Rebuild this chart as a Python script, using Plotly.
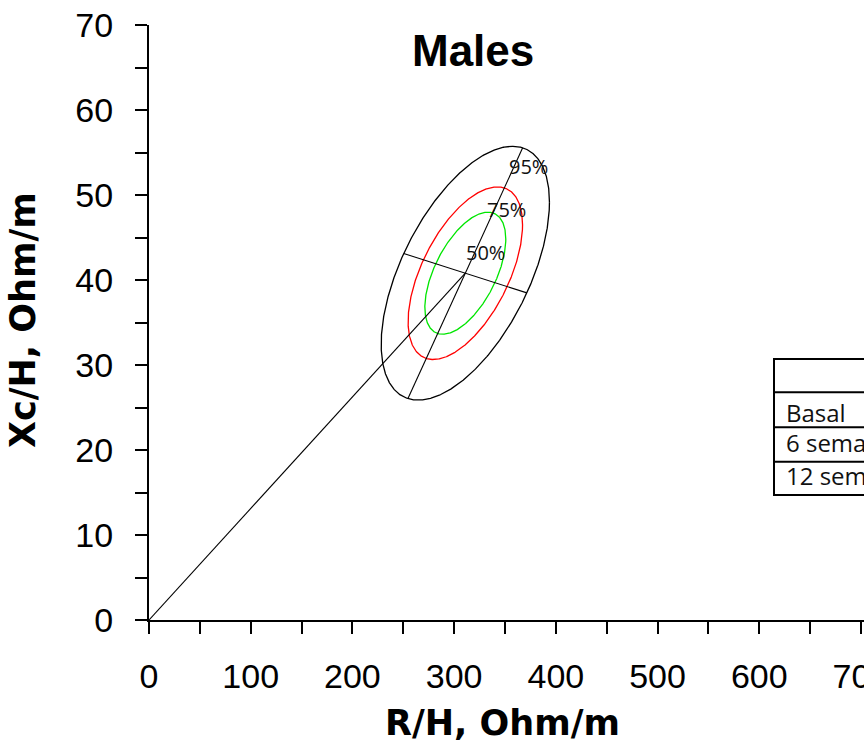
import numpy as np
import plotly.graph_objects as go

# ---- data ----
R_MEAN = 311.0        # R/H mean, Ohm/m
XC_MEAN = 40.8        # Xc/H mean, Ohm/m
R_SD = 33.8
XC_SD = 6.1
R_XC_CORR = 0.56
R_AXIS_SCALE = 0.1    # R scaling used for the ellipse principal axes

LEVELS = [0.50, 0.75, 0.95]
LEVEL_LABELS = ["50%", "75%", "95%"]
LEVEL_COLORS = ["#00e600", "#ff0000", "#000000"]
LABEL_R = [330.4, 351.7, 372.7]
LABEL_XC = [43.2, 48.3, 53.4]

TABLE_ROWS = ["", "Basal", "6 semanas", "12 semanas"]

X_TICKS = [0, 100, 200, 300, 400, 500, 600, 700]
X_MINOR = [50, 150, 250, 350, 450, 550, 650]
Y_TICKS = [0, 10, 20, 30, 40, 50, 60, 70]
Y_MINOR = [5, 15, 25, 35, 45, 55, 65]

TITLE = "Males"
X_TITLE = "R/H, Ohm/m"
Y_TITLE = "Xc/H, Ohm/m"

# ---- layout geometry (pixels) ----
W, H = 864, 744
ML, MR, MT, MB = 149, 0, 25, 124
PW, PH = W - ML - MR, H - MT - MB


def px_to_paper(px, py):
    return (px - ML) / PW, (H - MB - py) / PH


fig = go.Figure()

# tolerance ellipses
t = np.linspace(0, 2 * np.pi, 721)
for p, col in zip(LEVELS, LEVEL_COLORS):
    k = np.sqrt(-2 * np.log(1 - p))
    ex = R_MEAN + k * R_SD * np.cos(t)
    ey = XC_MEAN + k * XC_SD * (R_XC_CORR * np.cos(t) + np.sqrt(1 - R_XC_CORR ** 2) * np.sin(t))
    fig.add_trace(go.Scatter(x=ex, y=ey, mode="lines", line=dict(color=col, width=1.3),
                             hoverinfo="skip", showlegend=False))

# principal axes of the 95% ellipse
k95 = np.sqrt(-2 * np.log(1 - max(LEVELS)))
s = R_AXIS_SCALE
cov = np.array([[(s * R_SD) ** 2, R_XC_CORR * s * R_SD * XC_SD],
                [R_XC_CORR * s * R_SD * XC_SD, XC_SD ** 2]])
vals, vecs = np.linalg.eigh(cov)
for i in range(2):
    half = k95 * np.sqrt(vals[i]) * vecs[:, i]
    dx, dy = half[0] / s, half[1]
    fig.add_trace(go.Scatter(x=[R_MEAN - dx, R_MEAN + dx], y=[XC_MEAN - dy, XC_MEAN + dy],
                             mode="lines", line=dict(color="black", width=1.1),
                             hoverinfo="skip", showlegend=False))

# vector from origin to mean
fig.add_trace(go.Scatter(x=[0, R_MEAN], y=[0, XC_MEAN], mode="lines",
                         line=dict(color="black", width=1.1), hoverinfo="skip", showlegend=False))

annotations = []
for lab, lx, ly in zip(LEVEL_LABELS, LABEL_R, LABEL_XC):
    annotations.append(dict(x=lx, y=ly, xref="x", yref="y", text=lab, showarrow=False,
                            font=dict(family="Open Sans", size=20, color="#111111")))

# title and axis titles
tx, ty = px_to_paper(473, 51)
annotations.append(dict(x=tx, y=ty, xref="paper", yref="paper", text="<b>%s</b>" % TITLE,
                        showarrow=False, xanchor="center", yanchor="middle",
                        font=dict(family="Liberation Sans", size=44, color="black")))
ax_, ay_ = px_to_paper(502, 723)
annotations.append(dict(x=ax_, y=ay_, xref="paper", yref="paper", text="<b>%s</b>" % X_TITLE,
                        showarrow=False, xanchor="center", yanchor="middle",
                        font=dict(family="DejaVu Sans", size=35, color="black")))
bx_, by_ = px_to_paper(23, 320)
annotations.append(dict(x=bx_, y=by_, xref="paper", yref="paper", text="<b>%s</b>" % Y_TITLE,
                        showarrow=False, xanchor="center", yanchor="middle", textangle=-90,
                        font=dict(family="DejaVu Sans", size=35, color="black")))

# partially visible table
row_edges_px = [359, 392.3, 427.3, 461.7, 495]
text_centers_px = [375, 412, 442, 475]
shapes = []
x0p, _ = px_to_paper(774, 0)
_, ytop = px_to_paper(0, row_edges_px[0])
_, ybot = px_to_paper(0, row_edges_px[-1])
shapes.append(dict(type="rect", xref="paper", yref="paper", x0=x0p, x1=1.3, y0=ybot, y1=ytop,
                   line=dict(color="black", width=2)))
for e in row_edges_px[1:-1]:
    _, ye = px_to_paper(0, e)
    shapes.append(dict(type="line", xref="paper", yref="paper", x0=x0p, x1=1.3, y0=ye, y1=ye,
                       line=dict(color="black", width=2)))
txp, _ = px_to_paper(784, 0)
for lab, cy in zip(TABLE_ROWS, text_centers_px):
    if not lab:
        continue
    _, yy = px_to_paper(0, cy)
    annotations.append(dict(x=txp, y=yy, xref="paper", yref="paper", text=lab, showarrow=False,
                            xanchor="left", yanchor="middle",
                            font=dict(family="Open Sans", size=24, color="#111111")))

axis_common = dict(showline=True, linecolor="black", linewidth=2, ticks="outside",
                   ticklen=12, tickwidth=2, tickcolor="black", showgrid=False, zeroline=False,
                   tickfont=dict(family="Liberation Sans", size=34, color="black"),
                   tickmode="array", fixedrange=True, ticklabeloverflow="allow")

fig.update_layout(
    width=W, height=H,
    margin=dict(l=ML, r=MR, t=MT, b=MB, autoexpand=False),
    paper_bgcolor="white", plot_bgcolor="white",
    showlegend=False,
    xaxis=dict(range=[0, 703], tickvals=X_TICKS, ticktext=[str(v) for v in X_TICKS],
               minor=dict(tickmode="array", tickvals=X_MINOR, ticks="outside", ticklen=12,
                          tickwidth=2, tickcolor="black"),
               ticklabelstandoff=13, automargin=False, **axis_common),
    yaxis=dict(range=[0, 70], tickvals=Y_TICKS, ticktext=[str(v) for v in Y_TICKS],
               minor=dict(tickmode="array", tickvals=Y_MINOR, ticks="outside", ticklen=12,
                          tickwidth=2, tickcolor="black"),
               ticklabelstandoff=15, automargin=False, **axis_common),
    annotations=annotations,
    shapes=shapes,
)

fig.write_html("out.html", config={"displayModeBar": False},
               post_script="document.body.style.margin='0';document.body.style.overflow='hidden';")
